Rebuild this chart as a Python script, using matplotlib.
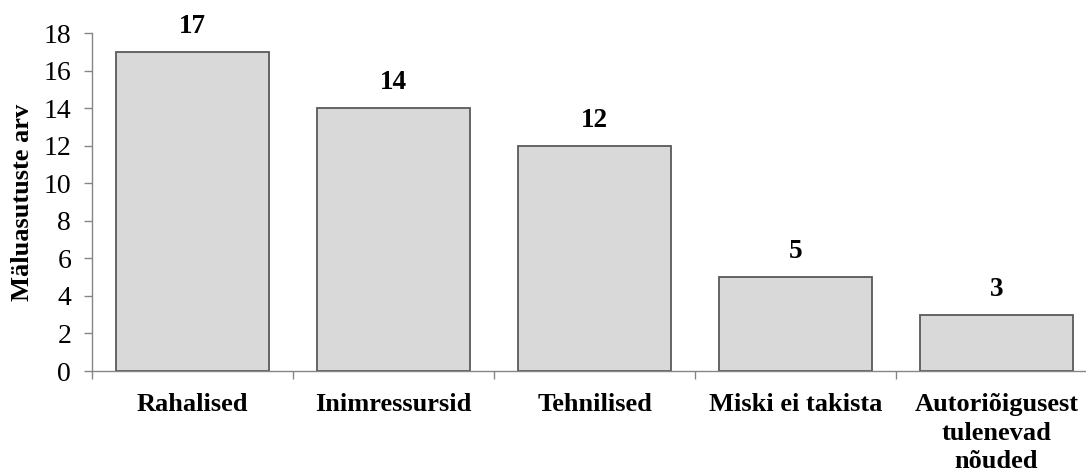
import matplotlib
matplotlib.use("Agg")
import matplotlib.pyplot as plt
import numpy as np

categories = ["Rahalised", "Inimressursid", "Tehnilised", "Miski ei takista",
              "Autoriõigusest\ntulenevad\nnõuded"]
values = [17, 14, 12, 5, 3]
yticks = [0, 2, 4, 6, 8, 10, 12, 14, 16, 18]
ylabel = "Mäluasutuste arv"

plt.rcParams['font.family'] = ['Liberation Serif', 'DejaVu Serif']

fig = plt.figure(figsize=(10.86, 4.73), dpi=100)
ax = fig.add_axes([92/1086, 1-371/473, 1005/1086, 338/473])

x = np.arange(len(categories))
ax.bar(x, values, width=0.765, color="#d9d9d9", edgecolor="#595959", linewidth=1.3, zorder=2)

for xi, v in zip(x, values):
    ax.annotate(str(v), (xi, v), xytext=(0, 13), textcoords="offset pixels",
                ha="center", va="bottom", fontsize=19.5, fontweight="bold")

ax.set_xlim(-0.5, len(categories) - 0.5)
ax.set_ylim(0, 18)
ax.set_yticks(yticks)
ax.set_yticklabels([str(t) for t in yticks], fontsize=20)
ax.set_xticks(x)
ax.set_xticklabels(categories, fontsize=19, fontweight="bold", linespacing=1.3, va="top")
ax.set_xticks(np.arange(len(categories) + 1) - 0.5, minor=True)
ax.tick_params(axis="x", which="major", length=0, pad=16)
ax.tick_params(axis="x", which="minor", length=6, width=1, color="#868686", direction="out")
ax.tick_params(axis="y", length=6, width=1, color="#868686", direction="out", pad=9)
ax.set_ylabel(ylabel, fontsize=19, fontweight="bold", labelpad=7)

for s in ["top", "right"]:
    ax.spines[s].set_visible(False)
for s in ["left", "bottom"]:
    ax.spines[s].set_color("#868686")
    ax.spines[s].set_linewidth(1)

fig.savefig("out.png", dpi=100)
